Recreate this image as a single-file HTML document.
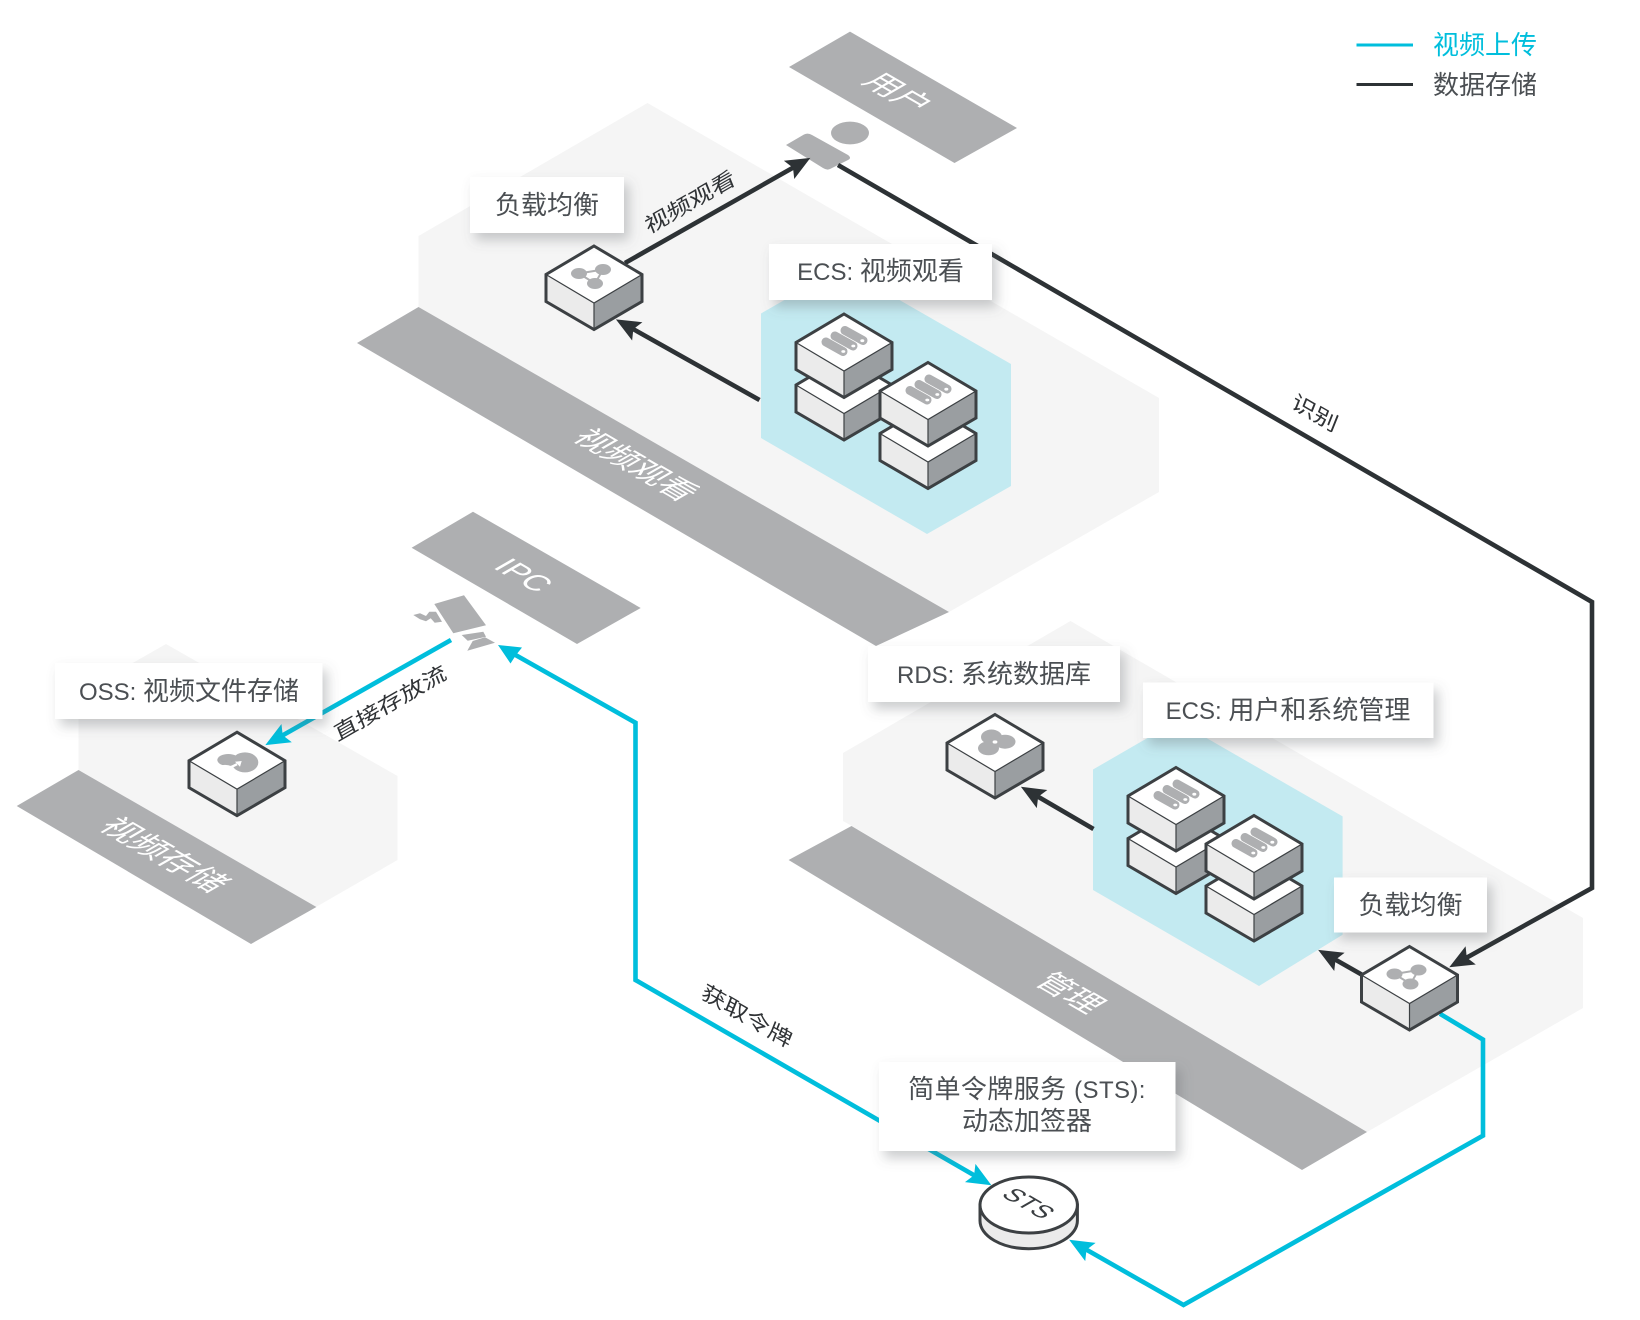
<!DOCTYPE html>
<html><head><meta charset="utf-8"><title>视频架构</title>
<style>
html,body{margin:0;padding:0;background:#fff}
svg{display:block}
text{font-family:"Liberation Sans","Noto Sans CJK SC",sans-serif}
.lb{font-size:26px;fill:#4b4f53;text-anchor:middle;font-weight:400}
.lat{font-size:24px}
.band{font-size:32px;fill:#fff;text-anchor:middle;font-weight:400}
.al{font-size:25.5px;fill:#2f3235;text-anchor:middle;font-weight:400}
</style></head><body>
<svg xmlns="http://www.w3.org/2000/svg" width="1640" height="1320" viewBox="0 0 1640 1320">
<defs>
<filter id="sh" x="-20%" y="-30%" width="145%" height="170%"><feDropShadow dx="5" dy="7" stdDeviation="6" flood-color="#60656a" flood-opacity=".33"/></filter>
<marker id="ad" markerUnits="userSpaceOnUse" markerWidth="40" markerHeight="32" viewBox="-20 -16 40 32" refX="0" refY="0" orient="auto"><path d="M12.5,0 L-12,-10.5 L-7.5,0 L-12,10.5 Z" fill="#2d3235"/></marker>
<marker id="ab" markerUnits="userSpaceOnUse" markerWidth="40" markerHeight="32" viewBox="-20 -16 40 32" refX="0" refY="0" orient="auto"><path d="M12.5,0 L-12,-10.5 L-7.5,0 L-12,10.5 Z" fill="#00bedc"/></marker>
<g id="cube">
<polygon points="-48,0 0,28.5 0,55 -48,27" fill="#ebebeb"/>
<polygon points="48,0 0,28.5 0,55 48,27" fill="#9a9ea1"/>
<polygon points="0,-28.5 48,0 0,28.5 -48,0" fill="#fff"/>
<path d="M-48,0 L0,28.5 L48,0 M0,28.5 L0,55" fill="none" stroke="#3c4043" stroke-width="1.2"/>
<path d="M0,-28.5 L48,0 L48,27 L0,55 L-48,27 L-48,0 Z" fill="none" stroke="#3c4043" stroke-width="3"/>
</g>
<g id="srv">
<use href="#cube"/>
<g stroke="#aeafb1" stroke-width="9" stroke-linecap="round"><path d="M-18,-.5 L-1,9"/><path d="M-9,-6.5 L9,3.5"/><path d="M1,-12 L19,-2"/></g>
<g fill="#fff"><ellipse cx="-.7" cy="9" rx="2" ry="1.4"/><ellipse cx="9.3" cy="3.5" rx="2" ry="1.4"/><ellipse cx="18.3" cy="-1.8" rx="2" ry="1.4"/></g>
</g>
<g id="lbc">
<use href="#cube"/>
<path d="M-15,-1 L9,-5 L1,9 Z" fill="none" stroke="#aeafb1" stroke-width="2"/>
<g fill="#aeafb1"><ellipse cx="-15" cy="-1" rx="8" ry="5.5"/><ellipse cx="9" cy="-5" rx="8" ry="5.5"/><ellipse cx="1" cy="9" rx="8" ry="5.5"/></g>
</g>
</defs>

<!-- panels -->
<polygon points="647.5,103 1159,398 1159,492 949,612 418.5,307 418.5,236" fill="#f5f5f5"/>
<polygon points="1070.5,621 1583,918 1583,1008 1367,1132 852,826 843,821 843,753" fill="#f5f5f5"/>
<polygon points="166,644 397.5,776 397.5,860 316,907 78.5,770 78.5,694" fill="#f5f5f5"/>
<!-- hex -->
<polygon points="842,267 1011,364 1011,486 927,534 761,438 761,313.5" fill="#c3eaf1"/>
<polygon points="1177,721 1342.6,816.4 1342.6,934.7 1259,986 1093,890 1093,769.5" fill="#c3eaf1"/>
<!-- bands -->
<polygon points="418.5,307 949,612 876,646 357,343" fill="#aeafb1"/>
<polygon points="851.5,826 1367,1132 1302,1170 788.6,860" fill="#aeafb1"/>
<polygon points="78.5,770 316.4,907 251,944 16.7,806" fill="#aeafb1"/>
<polygon points="850,31.6 1017,128 954.5,163 789,67" fill="#aeafb1"/>
<polygon points="473,511.7 640.7,608 577,644 411.6,547.7" fill="#aeafb1"/>

<text class="band" transform="matrix(.866,.5,-.866,.5,636,465)" y="11">视频观看</text>
<text class="band" transform="matrix(.866,.5,-.866,.5,898,93)" y="11">用户</text>
<text class="band" style="font-size:31px" transform="matrix(.866,.5,-.866,.5,524,575)" y="11">IPC</text>
<text class="band" style="font-size:33px" transform="matrix(.866,.5,-.866,.5,164,855)" y="11">视频存储</text>
<text class="band" transform="matrix(.866,.5,-.866,.5,1070,993)" y="11">管理</text>

<!-- user -->
<ellipse cx="850" cy="133" rx="19" ry="11.4" fill="#aeafb1"/>
<path d="M786,145 L804,134.5 Q808,132.5 812,135 L848,155 Q852,158 848,160 L830,169 Q827,170.5 823,168 Z" fill="#aeafb1"/>
<!-- camera -->
<g fill="#aeafb1">
<polygon points="434.3,604 464,595.3 486,625.3 453.3,633.3"/>
<polygon points="413.3,615 420,613.3 426,616 429.3,611.7 436,611.7 442,621.7 434.7,622.7 430.7,618.3 426,621.3 420,619.3"/>
<polygon points="461.7,635 483.3,631.7 486,636.7 467.7,640.7"/>
<polygon points="472.7,641 485,637.3 495,642.7 467.3,650.7"/>
</g>

<!-- connectors -->
<g fill="none" stroke-width="4.6">
<polyline points="625,263 799.5,164" stroke="#2d3235" marker-end="url(#ad)"/>
<polyline points="838,165 1592,602 1592,888 1460.2,961.2" stroke="#2d3235" marker-end="url(#ad)"/>
<polyline points="759.5,400 626.8,325.5" stroke="#2d3235" marker-end="url(#ad)"/>
<polyline points="1093.5,829 1031.7,793" stroke="#2d3235" marker-end="url(#ad)"/>
<polyline points="1362.4,975 1329,956" stroke="#2d3235" marker-end="url(#ad)"/>
<polyline points="451,640 276.2,739" stroke="#00bedc" marker-end="url(#ab)"/>
<polyline points="510.2,652 635.5,722.7 635.5,980 980.6,1179" stroke="#00bedc" marker-end="url(#ab)"/>
<polyline points="1440,1013.8 1483,1039.6 1483,1135.6 1183.5,1305 1080,1246" stroke="#00bedc" marker-end="url(#ab)"/>
</g>
<path d="M498,645 L522,647.5 L516,655 L510.5,663.5 Z" fill="#00bedc"/>

<!-- cubes -->
<use href="#lbc" x="594" y="274.5"/>
<use href="#cube" x="844" y="385"/>
<use href="#srv" x="844" y="342.5"/>
<use href="#cube" x="928" y="433.5"/>
<use href="#srv" x="928" y="391"/>
<use href="#lbc" x="1409.5" y="975"/>
<use href="#cube" x="1176" y="838.5"/>
<use href="#srv" x="1176" y="796"/>
<use href="#cube" x="1254" y="886"/>
<use href="#srv" x="1254" y="844"/>

<use href="#cube" x="995" y="743"/>
<g fill="#aeafb1"><ellipse cx="991.5" cy="737" rx="10.5" ry="7.5"/><ellipse cx="1005" cy="741.7" rx="10.5" ry="7"/><ellipse cx="988.5" cy="748.3" rx="10.5" ry="7"/></g>
<ellipse cx="995" cy="742" rx="2.4" ry="1.6" fill="#fff"/>

<use href="#cube" x="237" y="760.7"/>
<g transform="translate(237,760.7)">
<ellipse cx="-8.7" cy="-.7" rx="11" ry="6" fill="#aeafb1"/><ellipse cx="8" cy="1.7" rx="13.3" ry="10" fill="#aeafb1"/>
<ellipse cx="-12" cy="8.7" rx="9" ry="4.5" fill="#fff"/>
<path d="M-7,7 L0,3.5" stroke="#fff" stroke-width="2.4" fill="none"/>
<polygon points="4.7,.3 -2,1 3,6" fill="#fff"/>
</g>

<!-- STS -->
<path d="M980,1205 L980,1220.7 A48.7,28 0 0 0 1077.4,1220.7 L1077.4,1205 Z" fill="#ebebeb" stroke="#3c4043" stroke-width="3"/>
<ellipse cx="1028.7" cy="1205" rx="48.7" ry="28" fill="#fff" stroke="#3c4043" stroke-width="3"/>
<text style="font-size:25px;fill:#3a3e41;text-anchor:middle" transform="matrix(.866,.5,-.866,.5,1029,1203)" y="9">STS</text>

<!-- labels -->
<g fill="#fff" filter="url(#sh)">
<rect x="470" y="177" width="154" height="56"/>
<rect x="769" y="244" width="223" height="56"/>
<rect x="55" y="663" width="267.5" height="56"/>
<rect x="868" y="646" width="252" height="56"/>
<rect x="1143" y="682.5" width="290.5" height="55.5"/>
<rect x="1334" y="877.5" width="153" height="55"/>
<rect x="879" y="1062" width="296.5" height="89"/>
</g>
<text class="lb" x="547" y="214">负载均衡</text>
<text class="lb" x="880.5" y="280"><tspan class="lat">ECS: </tspan>视频观看</text>
<text class="lb" x="189" y="700"><tspan class="lat">OSS: </tspan>视频文件存储</text>
<text class="lb" x="994" y="683"><tspan class="lat">RDS: </tspan>系统数据库</text>
<text class="lb" x="1288" y="719"><tspan class="lat">ECS: </tspan>用户和系统管理</text>
<text class="lb" x="1410.5" y="914">负载均衡</text>
<text class="lb" x="1027" y="1098" style="letter-spacing:.4px">简单令牌服务 <tspan class="lat">(STS):</tspan></text>
<text class="lb" x="1027" y="1130">动态加签器</text>

<!-- arrow labels -->
<text class="al" transform="matrix(.866,-.5,.3,.75,690,202)" y="9">视频观看</text>
<text class="al" transform="matrix(.866,-.5,.3,.75,390,703)" y="9">直接存放流</text>
<text class="al" transform="matrix(.866,.5,-.3,.75,1315,413)" y="9">识别</text>
<text class="al" transform="matrix(.866,.5,-.3,.75,747,1016)" y="9">获取令牌</text>

<!-- legend -->
<line x1="1356.5" y1="45" x2="1413" y2="45" stroke="#00bedc" stroke-width="3"/>
<line x1="1356.5" y1="84.5" x2="1413" y2="84.5" stroke="#2d3235" stroke-width="3"/>
<text x="1433" y="54" style="font-size:26px;fill:#00bedc">视频上传</text>
<text x="1433" y="94" style="font-size:26px;fill:#4b4f53">数据存储</text>
</svg>
</body></html>
